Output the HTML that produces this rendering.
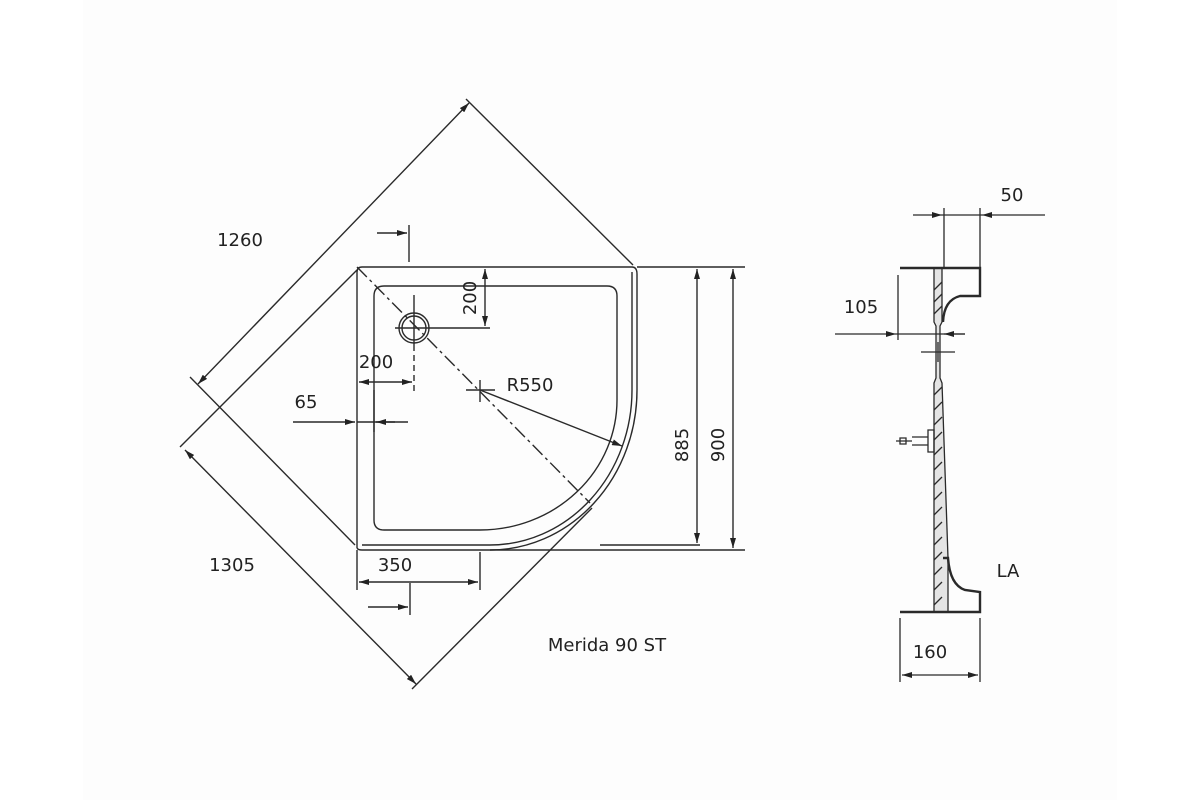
<!DOCTYPE html>
<html><head><meta charset="utf-8"><style>
html,body{margin:0;padding:0;background:#fff;}
svg{display:block;}
text{font-family:"DejaVu Sans","Liberation Sans",sans-serif;font-size:18px;fill:#222;}
</style></head><body>
<svg width="1200" height="800" viewBox="0 0 1200 800" xmlns="http://www.w3.org/2000/svg">
<defs>
<marker id="a" viewBox="0 0 10 6" refX="10" refY="3" markerWidth="10" markerHeight="6" orient="auto-start-reverse" markerUnits="userSpaceOnUse"><path d="M0,0 L10,3 L0,6 z" fill="#222"/></marker>
</defs>
<rect x="83" y="0" width="1034" height="800" fill="#fdfdfd"/>
<g stroke="#2a2a2a" stroke-width="1.4" fill="none">
<path d="M357,548 L357,272 Q357,267 362,267 L632,267"/>
<path d="M362,550 L490,550"/>
<path d="M632,267 Q637,267 637,274 L637,390 A147,160 0 0 1 490,550"/>
<path d="M632,272 L632,390 A142,155 0 0 1 490,545 L362,545"/>
<path d="M357,548 Q358,550 362,550"/>
<path d="M374,296 Q374,286 384,286 L607,286 Q617,286 617,296 L617,400 A137,130 0 0 1 480,530 L384,530 Q374,530 374,520 Z"/>
<circle cx="414" cy="328" r="15"/>
<circle cx="414" cy="328" r="12"/>
<path d="M395,328 L490,328"/>
<path d="M414,295 L414,345"/>
<path d="M414,345 L414,392" stroke-dasharray="6,4"/>
<path d="M357,267 L590,503" stroke-dasharray="14,4,3,4"/>
<path d="M466,390 L495,390 M480,380 L480,402"/>
<path d="M480,390 L622,446" marker-end="url(#a)"/>
<path d="M485,269 L485,326" marker-start="url(#a)" marker-end="url(#a)"/>
<path d="M637,267 L745,267 M600,545 L700,545 M490,550 L745,550"/>
<path d="M697,269 L697,543" marker-start="url(#a)" marker-end="url(#a)"/>
<path d="M733,269 L733,548" marker-start="url(#a)" marker-end="url(#a)"/>
<path d="M359,382 L412,382" marker-start="url(#a)" marker-end="url(#a)"/>
<path d="M409,225 L409,262"/>
<path d="M377,233 L407,233" marker-end="url(#a)"/>
<path d="M293,422 L355,422" marker-end="url(#a)"/>
<path d="M357,422 L408,422"/>
<path d="M395,422 L376,422" marker-end="url(#a)"/>
<path d="M374,390 L374,432"/>
<path d="M357,550 L357,590 M480,552 L480,590"/>
<path d="M359,582 L478,582" marker-start="url(#a)" marker-end="url(#a)"/>
<path d="M410,583 L410,615"/>
<path d="M368,607 L408,607" marker-end="url(#a)"/>
<path d="M198,384 L469,103" marker-start="url(#a)" marker-end="url(#a)"/>
<path d="M466,99 L633,265"/>
<path d="M190,377 L355,545"/>
<path d="M357,270 L180,447"/>
<path d="M185,450 L416,684" marker-start="url(#a)" marker-end="url(#a)"/>
<path d="M412,689 L592,508"/>
</g>
<text x="240" y="246" text-anchor="middle">1260</text>
<text x="232" y="571" text-anchor="middle">1305</text>
<text x="376" y="368" text-anchor="middle">200</text>
<text x="306" y="408" text-anchor="middle">65</text>
<text x="395" y="571" text-anchor="middle">350</text>
<text x="530" y="391" text-anchor="middle">R550</text>
<text transform="translate(476,298) rotate(-90)" text-anchor="middle">200</text>
<text transform="translate(688,445) rotate(-90)" text-anchor="middle">885</text>
<text transform="translate(724,445) rotate(-90)" text-anchor="middle">900</text>
<text x="607" y="651" text-anchor="middle">Merida 90 ST</text>
<g stroke="#2a2a2a" stroke-width="1.3" fill="none">
<path d="M934,268 L942,268 L942,322 L940,326 L940,378 L942,383 L948,558 L948,612 L934,612 L934,383 L936,378 L936,326 L934,322 Z" fill="#e4e4e4"/>
<path d="M944,208 L944,268 M980,208 L980,268"/>
<path d="M913,215 L942,215" marker-end="url(#a)"/>
<path d="M942,215 L982,215"/>
<path d="M1045,215 L982,215" marker-end="url(#a)"/>
<path d="M900,268 L980,268 L980,296 L960,296 Q944,300 943,322" stroke-width="2.4"/>
<path d="M900,612 L980,612 L980,592 L965,590 Q950,585 948,558 L943,558" stroke-width="2.4"/>
<path d="M934,290 l8,-8 M934,302 l8,-8 M934,314 l8,-8 M934,395 l8,-8 M934,410 l8,-8 M934,425 l8,-8 M934,440 l8,-8 M934,455 l8,-8 M934,470 l8,-8 M934,485 l8,-8 M934,500 l8,-8 M934,515 l8,-8 M934,530 l8,-8 M934,545 l8,-8 M934,560 l8,-8 M934,575 l8,-8 M934,590 l8,-8 M934,605 l8,-8"/>
<path d="M898,275 L898,340"/>
<path d="M835,334 L896,334" marker-end="url(#a)"/>
<path d="M896,334 L965,334"/>
<path d="M965,334 L944,334" marker-end="url(#a)"/>
<path d="M921,352 L955,352 M938,342 L938,362"/>
<path d="M928,430 L934,430 L934,452 L928,452 Z M912,437 L928,437 L928,445 L912,445 M900,438 L906,438 L906,444 L900,444 Z M896,441 L912,441"/>
<path d="M900,618 L900,682 M980,618 L980,682"/>
<path d="M902,675 L978,675" marker-start="url(#a)" marker-end="url(#a)"/>
</g>
<text x="1012" y="201" text-anchor="middle">50</text>
<text x="861" y="313" text-anchor="middle">105</text>
<text x="930" y="658" text-anchor="middle">160</text>
<text x="1008" y="577" text-anchor="middle">LA</text>
</svg>
</body></html>
